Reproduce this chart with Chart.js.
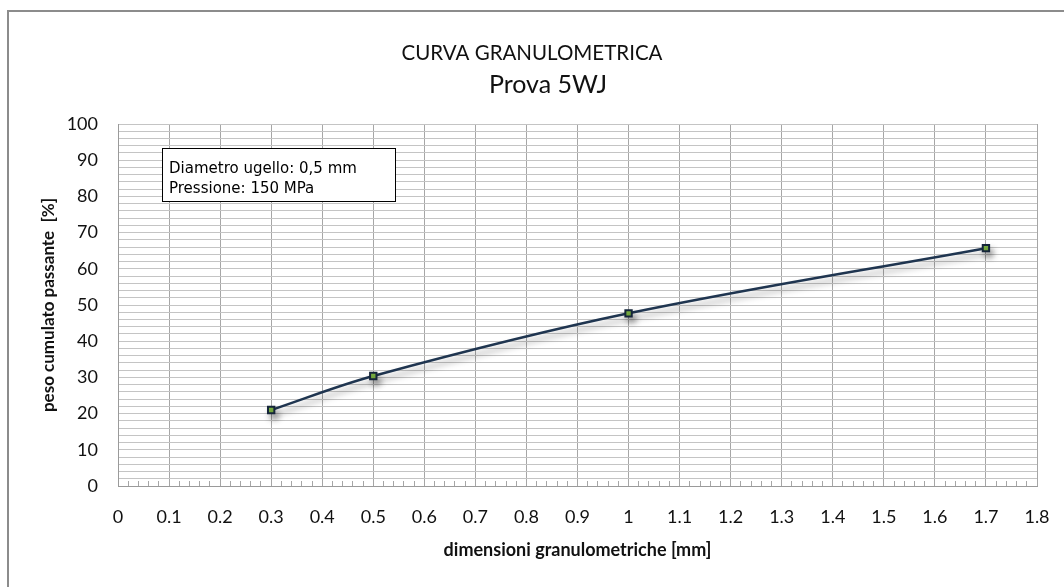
<!DOCTYPE html>
<html>
<head>
<meta charset="utf-8">
<script src="https://cdn.jsdelivr.net/npm/chart.js@4"></script>
<style>
  html, body { margin: 0; padding: 0; background: #fff; overflow: hidden; }
  #wrap { width: 1064px; height: 587px; position: relative; }
  canvas { display: block; }
</style>
</head>
<body>
<div id="wrap"><canvas id="chart"></canvas></div>
<script>
// dati
const diametri = [0.3, 0.5, 1.0, 1.7];          // mm
const passante = [21.0, 30.4, 47.7, 65.7];      // %
const titolo = 'CURVA GRANULOMETRICA';
const sottotitolo = 'Prova 5WJ';
const noteBox = ['Diametro ugello: 0,5 mm', 'Pressione: 150 MPa'];

const punti = diametri.map((d, i) => ({ x: d, y: passante[i] }));

// cornice, titoli e riquadro note
const decorazioni = {
  id: 'decorazioni',
  beforeDraw(chart) {
    const ctx = chart.ctx;
    ctx.save();
    ctx.fillStyle = '#fff';
    ctx.fillRect(0, 0, chart.width, chart.height);
    // cornice: solo i lati superiore e sinistro sono nell'immagine
    ctx.strokeStyle = '#8c8c8c';
    ctx.lineWidth = 2;
    ctx.beginPath();
    ctx.moveTo(8, chart.height);
    ctx.lineTo(8, 11);
    ctx.lineTo(chart.width, 11);
    ctx.stroke();
    ctx.fillStyle = '#111';
    ctx.textAlign = 'center';
    ctx.textBaseline = 'alphabetic';
    ctx.font = '20.5px Lato';
    ctx.fillText(titolo, 532, 60);
    ctx.font = '25px Lato';
    ctx.fillText(sottotitolo, 548, 93);
    ctx.restore();
  },
  beforeDatasetsDraw(chart) {
    const ctx = chart.ctx;
    ctx.save();
    ctx.shadowColor = 'rgba(0,0,0,0.35)';
    ctx.shadowBlur = 6;
    ctx.shadowOffsetX = 3;
    ctx.shadowOffsetY = 5;
  },
  afterDatasetsDraw(chart) {
    chart.ctx.restore();
  },
  afterDraw(chart) {
    const ctx = chart.ctx;
    ctx.save();
    ctx.fillStyle = '#fff';
    ctx.fillRect(162, 148, 233, 53);
    ctx.strokeStyle = '#000';
    ctx.lineWidth = 1;
    ctx.strokeRect(162.5, 148.5, 233, 53);
    ctx.fillStyle = '#000';
    ctx.font = '15px "DejaVu Sans"';
    ctx.textAlign = 'left';
    ctx.fillText(noteBox[0], 169, 173);
    ctx.fillText(noteBox[1], 169, 193);
    ctx.restore();
  }
};

new Chart(document.getElementById('chart'), {
  type: 'line',
  data: {
    datasets: [{
      data: punti,
      borderColor: '#1f3550',
      borderWidth: 2.5,
      tension: 0.35,
      pointStyle: 'rect',
      pointRadius: 4.5,
      pointBorderWidth: 2,
      pointBorderColor: '#15253a',
      pointBackgroundColor: '#7cb342'
    }]
  },
  options: {
    responsive: true,
    maintainAspectRatio: false,
    animation: false,
    layout: { padding: { left: 0, right: 27, top: 124, bottom: 0 } },
    plugins: {
      legend: { display: false },
      tooltip: { enabled: false }
    },
    scales: {
      x: {
        type: 'linear',
        min: 0,
        max: 1.8,
        afterFit(scale) {
          scale.height = 101;
          scale.paddingLeft = 0;
          scale.paddingRight = 0;
        },
        border: { color: '#9a9a9a', width: 1 },
        grid: {
          color: ctx => (Math.round(ctx.tick.value * 100) % 10 === 0 ? '#a6a6a6' : 'rgba(0,0,0,0)'),
          tickColor: '#a6a6a6',
          tickLength: -5
        },
        ticks: {
          stepSize: 0.02,
          autoSkip: false,
          maxRotation: 0,
          minRotation: 0,
          padding: 25,
          color: '#111',
          font: { family: 'Lato', size: 18 },
          callback: v => (Math.round(v * 100) % 10 === 0 ? String(Math.round(v * 10) / 10) : '')
        },
        title: {
          display: true,
          text: 'dimensioni granulometriche [mm]',
          color: '#111',
          font: { family: 'Lato', size: 18, weight: 'bold' },
          padding: { top: 0, bottom: 26 }
        }
      },
      y: {
        min: 0,
        max: 100,
        afterFit(scale) { scale.width = 118; },
        border: { color: '#9a9a9a', width: 1 },
        grid: {
          color: '#c4c4c4',
          drawTicks: false
        },
        ticks: {
          stepSize: 2,
          autoSkip: false,
          padding: 20,
          color: '#111',
          font: { family: 'Lato', size: 18 },
          callback: v => (v % 10 === 0 ? String(v) : '')
        },
        title: {
          display: true,
          text: 'peso cumulato passante  [%]',
          color: '#111',
          font: { family: 'Lato', size: 17, weight: 'bold' },
          padding: { top: 38, bottom: 0 }
        }
      }
    }
  },
  plugins: [decorazioni]
});
</script>
</body>
</html>
